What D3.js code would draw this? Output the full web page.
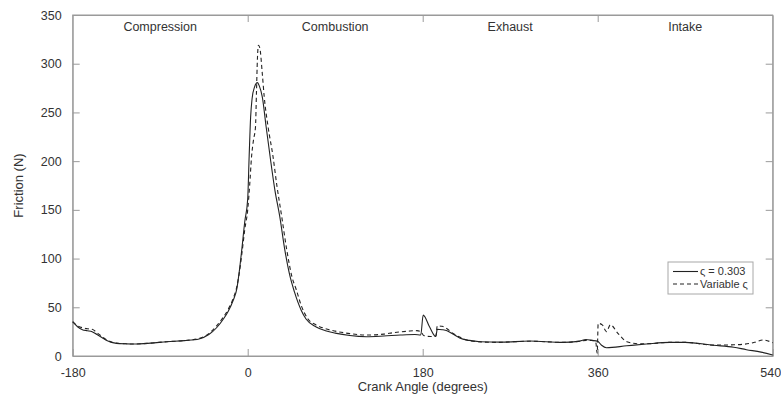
<!DOCTYPE html>
<html>
<head>
<meta charset="utf-8">
<script src="https://cdn.jsdelivr.net/npm/d3@7"></script>
<style>
  body { margin: 0; background: #fff; }
  text { font-family: "Liberation Sans", Arial, sans-serif; fill: #333; }
</style>
</head>
<body>
<svg id="chart" width="781" height="394"></svg>
<script>
// stroke phases shown across the top of the plot
const phases = ["Compression", "Combustion", "Exhaust", "Intake"];
const phaseCentres = [-90, 90, 270, 450];
const xTicks = [-180, 0, 180, 360, 540];
const topTicks = [0, 180, 360];
const yTicks = [0, 50, 100, 150, 200, 250, 300, 350];

// series 1: constant ς = 0.303
const angleFixed = [-180, -175, -170, -165, -160, -155, -150, -145, -140, -135, -125, -117, -100, -83, -65, -50, -40, -32, -25, -20, -15, -11, -9, -6, -3, 0, 1.5, 3, 4.5, 7, 10, 12, 15, 19, 23, 28, 33, 38, 43, 48, 55, 60, 70, 80, 90, 105, 122, 140, 157, 172, 178, 180.5, 187, 193.5, 195, 200, 205, 212, 218, 228, 239, 260, 290, 324, 340, 348, 354, 360, 364, 369, 390, 410, 434, 450, 479, 500, 513, 528, 540];
const frictionFixed = [35.2, 30, 27, 26, 25, 22, 19, 16, 14, 13, 12.5, 12.3, 13.2, 14.7, 15.8, 17.5, 22, 29, 38, 46, 57, 70, 84, 110, 138, 161, 205, 245, 264, 276, 280.6, 277, 266, 235, 205, 170, 143, 110, 84, 66, 47, 38, 30, 26, 23.5, 21, 19.8, 20.5, 21.5, 22, 21.5, 42, 30, 20, 27.5, 27, 26, 22, 18.5, 16, 14.7, 14.2, 15.4, 14, 15, 17, 16, 15, 11, 8.5, 10.5, 12.3, 14, 14, 11, 9, 6.5, 4, 1];

// series 2: variable ς
const angleVar = [-180, -175, -170, -165, -160, -155, -150, -145, -140, -135, -125, -117, -100, -83, -65, -50, -40, -32, -25, -20, -15, -11, -9, -6, -3, 0, 2, 4, 6, 8, 9, 10, 11, 12.5, 15, 17, 21, 26, 30, 35, 40, 45.6, 50, 55, 62, 70, 80, 90, 105, 122, 140, 150, 165, 174, 178, 181, 188, 193.5, 195, 200, 205, 210, 218, 225, 240, 256, 290, 324, 340, 348, 354, 358, 359.5, 360.5, 364.7, 369, 373, 381, 390, 403, 410, 434, 450, 479, 500, 517, 523, 530, 540];
const frictionVar = [35, 31, 29, 28, 27.4, 24, 20, 16.5, 14.3, 13.2, 12.5, 12.3, 13.2, 14.7, 15.8, 18, 23, 31, 40, 48, 59, 72, 83, 105, 130, 150, 175, 205, 222, 235, 270, 305, 319, 316, 290, 266, 235, 205, 175, 143, 110, 81, 68, 52, 38, 32, 28, 25.5, 23, 21.5, 22.5, 24, 25.5, 26, 25, 21, 20, 20.5, 31, 30.5, 28, 24, 19.5, 16.4, 14.5, 14, 15.2, 14, 15, 16, 16, 14, 3, 33.5, 32, 25, 32, 23, 14.7, 12.5, 12.5, 14, 14, 11.2, 11.5, 13, 14.5, 16.4, 13.6];

const seriesNames = ["ς = 0.303", "Variable ς"];

const svg = d3.select("#chart");
const plot = { left: 72.7, right: 772.7, top: 15, bottom: 356 };
const axisColor = "#9a9a9a";
const tickLen = 7;

const x = d3.scaleLinear().domain([-180, 540]).range([plot.left, plot.right]);
const y = d3.scaleLinear().domain([0, 350]).range([plot.bottom, plot.top]);

// axes: inward ticks, mirrored like the original figure
svg.append("g")
  .attr("transform", `translate(0,${plot.bottom})`)
  .call(d3.axisBottom(x).tickValues(xTicks).tickFormat(d => String(d))
    .tickSize(-tickLen).tickPadding(tickLen + 5).tickSizeOuter(0))
  .call(g => g.selectAll("text").style("font-size", "12.5px"))
  // last label sits against the right edge of the figure
  .call(g => g.selectAll(".tick text").filter(d => d === 540)
    .attr("text-anchor", "end").attr("dx", 8));

svg.append("g")
  .attr("transform", `translate(${plot.left},0)`)
  .call(d3.axisLeft(y).tickValues(yTicks).tickSize(-tickLen).tickPadding(tickLen + 4).tickSizeOuter(0))
  .call(g => g.selectAll("text").style("font-size", "12.5px"));

svg.append("g")
  .attr("transform", `translate(0,${plot.top})`)
  .call(d3.axisTop(x).tickValues(topTicks).tickSize(-tickLen).tickFormat("").tickSizeOuter(0));

svg.append("g")
  .attr("transform", `translate(${plot.right},0)`)
  .call(d3.axisRight(y).tickValues(yTicks.slice(1, -1)).tickSize(-tickLen).tickFormat("").tickSizeOuter(0));

svg.selectAll(".domain, .tick line").attr("stroke", axisColor);
svg.selectAll(".tick text").style("fill", "#333").attr("font-family", null);

svg.append("rect")
  .attr("x", plot.left).attr("y", plot.top)
  .attr("width", plot.right - plot.left).attr("height", plot.bottom - plot.top)
  .attr("fill", "none").attr("stroke", axisColor);

// phase labels
svg.selectAll(".phase")
  .data(phases)
  .enter().append("text")
  .attr("class", "phase")
  .attr("x", (d, i) => x(phaseCentres[i]))
  .attr("y", 31)
  .attr("text-anchor", "middle")
  .style("font-size", "12.5px")
  .text(d => d);

// curves
const line = d3.line()
  .x(d => x(d[0]))
  .y(d => y(d[1]))
  .curve(d3.curveMonotoneX);

svg.append("path")
  .datum(d3.zip(angleVar, frictionVar))
  .attr("d", line)
  .attr("fill", "none")
  .attr("stroke", "#222")
  .attr("stroke-width", 1.1)
  .attr("stroke-dasharray", "4,3");

svg.append("path")
  .datum(d3.zip(angleFixed, frictionFixed))
  .attr("d", line)
  .attr("fill", "none")
  .attr("stroke", "#222")
  .attr("stroke-width", 1.1);

// axis titles
svg.append("text")
  .attr("x", (plot.left + plot.right) / 2)
  .attr("y", 391)
  .attr("text-anchor", "middle")
  .style("font-size", "13px")
  .text("Crank Angle (degrees)");

svg.append("text")
  .attr("transform", `translate(23,${(plot.top + plot.bottom) / 2}) rotate(-90)`)
  .attr("text-anchor", "middle")
  .style("font-size", "13px")
  .text("Friction (N)");

// legend
const legend = svg.append("g").attr("transform", "translate(668,262)");
legend.append("rect")
  .attr("width", 85).attr("height", 32)
  .attr("fill", "#fff").attr("stroke", "#a8a8a8");

const entries = legend.selectAll(".entry")
  .data(seriesNames)
  .enter().append("g")
  .attr("transform", (d, i) => `translate(0,${9.5 + i * 12.5})`);

entries.append("line")
  .attr("x1", 5).attr("x2", 30)
  .attr("stroke", "#222").attr("stroke-width", 1.1)
  .attr("stroke-dasharray", (d, i) => i ? "4,3" : null);

entries.append("text")
  .attr("x", 32).attr("dy", "0.35em")
  .style("font-size", "11px")
  .text(d => d);
</script>
</body>
</html>
